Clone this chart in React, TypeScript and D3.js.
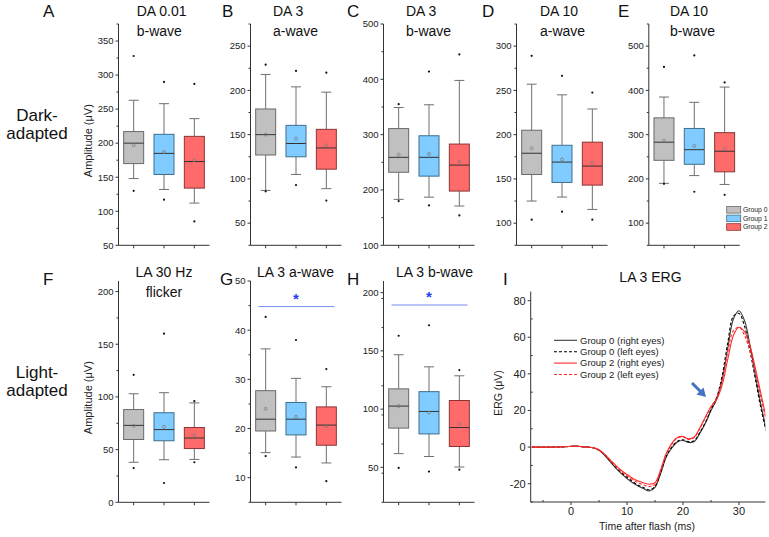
import React from "react";
import * as d3 from "d3";

const FONT = "'Liberation Sans', Arial, Helvetica, sans-serif";

const groups = ["Group 0", "Group 1", "Group 2"];
const groupFill = ["#c0c0c0", "#80cbff", "#ff6b6b"];
const groupEdge = ["#6a6a6a", "#3d6f8c", "#8a3535"];

// per group: [low outlier, whisker low, Q1, median, Q3, whisker high, high outlier, mean]
const da001B = [
  [130, 148, 170, 200, 217, 263, 328, 197],
  [117, 132, 154, 185, 213, 258, 290, 187],
  [85, 112, 134, 173, 210, 236, 287, 175],
];
const da3A = [
  [86, 87, 127, 150, 179, 218, 229, 150],
  [93, 105, 125, 140, 160.5, 204, 222, 145.5],
  [75.5, 89, 111, 135, 156, 198, 220, 138],
];
const da3B = [
  [180, 183, 232, 259, 311, 349, 355, 264],
  [172, 187, 225, 259, 298, 354, 414, 265],
  [154, 171, 198, 245, 283, 398, 445, 251],
];
const da10A = [
  [104, 125, 155, 179, 205, 257, 289, 184.5],
  [113, 129.5, 146, 169, 188, 245, 266.5, 172],
  [104, 115.5, 143, 164.5, 191.5, 229, 247.5, 168.5],
];
const da10B = [
  [189, 190, 242, 283, 338, 385, 453, 286.5],
  [171, 207.5, 233, 266, 314, 373, 479, 274.5],
  [164, 187.5, 216, 262.5, 304.5, 407.5, 418, 267],
];
const la30Hz = [
  [32.5, 38, 59.6, 73, 88, 103, 121, 72.6],
  [18.3, 40.4, 58.4, 69, 85, 104, 160, 71.6],
  [38, 40.7, 51, 61, 71, 94.3, 96, 63.7],
];
const la3A = [
  [14.4, 15.1, 19.5, 21.9, 27.7, 36.2, 42.7, 24],
  [12.1, 14.2, 18.7, 21.9, 25.3, 30.2, 38, 22.4],
  [9.3, 13, 16.6, 20.7, 24.4, 28.5, 32.1, 20.5],
];
const la3B = [
  [49.5, 61.8, 83.7, 102.6, 117.4, 146.7, 163, 102.6],
  [46.4, 59.3, 78.7, 98, 115, 136.3, 172, 97],
  [48, 50.3, 67.9, 84.2, 107.4, 128.6, 133.5, 87.4],
];

// LA 3 ERG traces, one value per ms from -7 to 35
const ergTime = d3.range(-7, 36, 1);
const g0Right = [0, 0, 0, 0, 0, 0.1, 0.2, 0.4, 0.5, 0.2, 0, -0.4, -1.8, -4.5, -8, -11.5, -14.5, -17.2, -19.5, -21.3, -22.8, -24, -22, -14.5, -5.5, -0.5, 2.8, 3.6, 2.5, 3, 7.5, 13, 20, 26, 37, 54, 70, 74.5, 69, 55, 38, 22, 8];
const g0Left = [0, 0, 0, 0, 0, 0.1, 0.2, 0.4, 0.5, 0.2, 0, -0.4, -1.7, -4.3, -7.6, -11, -14, -16.5, -18.8, -20.8, -22.2, -23.3, -21.5, -14, -5, 0, 3.2, 4, 3, 3.5, 8, 13.5, 20.5, 27, 39, 57, 71.5, 73, 66, 52, 36, 20, 7];
const g2Right = [0, 0, 0, 0, 0, 0.1, 0.2, 0.4, 0.5, 0.2, 0, -0.3, -1.5, -3.8, -7, -10, -12.8, -15, -17, -18.5, -19.6, -20.3, -19.5, -12.5, -3.5, 2, 5.2, 5.8, 4.5, 5.5, 10.5, 16.5, 22, 26, 34, 48, 61, 65.5, 63, 55, 42, 28, 14];
const g2Left = [0, 0, 0, 0, 0, 0.1, 0.2, 0.4, 0.5, 0.2, 0, -0.3, -1.6, -4, -7.3, -10.5, -13.4, -15.8, -17.8, -19.5, -20.7, -21.5, -20.5, -13, -4, 1.5, 5, 5.5, 4.2, 5.2, 10, 16, 22, 27, 37, 52, 63.5, 65.5, 61, 52, 40, 26, 13];
const ergSeries = [
  { name: "Group 0 (right eyes)", values: g0Right, color: "#3a3a3a", dash: null },
  { name: "Group 0 (left eyes)", values: g0Left, color: "#000000", dash: "3,2" },
  { name: "Group 2 (right eyes)", values: g2Right, color: "#ff2a2a", dash: null },
  { name: "Group 2 (left eyes)", values: g2Left, color: "#ff2a2a", dash: "3,2" },
];

const colX = [118.5, 250.5, 383.5, 516.5, 648.8];
const panelW = 91;
const rowY = [
  [245.3, 24],
  [502.3, 281],
];

const panels = [
  { letter: "A", lx: 43, data: da001B, domain: [50, 375], ticks: d3.range(50, 351, 50), minor: 25, col: 0, row: 0, title: ["DA 0.01", "b-wave"], tx: 136.7, ylab: true },
  { letter: "B", lx: 222, data: da3A, domain: [25, 275], ticks: d3.range(50, 251, 50), minor: 25, col: 1, row: 0, title: ["DA 3", "a-wave"], tx: 273 },
  { letter: "C", lx: 347, data: da3B, domain: [100, 500], ticks: d3.range(100, 501, 100), minor: 50, col: 2, row: 0, title: ["DA 3", "b-wave"], tx: 406 },
  { letter: "D", lx: 482, data: da10A, domain: [75, 325], ticks: d3.range(100, 301, 50), minor: 25, col: 3, row: 0, title: ["DA 10", "a-wave"], tx: 540 },
  { letter: "E", lx: 618, data: da10B, domain: [50, 550], ticks: d3.range(100, 501, 100), minor: 50, col: 4, row: 0, title: ["DA 10", "b-wave"], tx: 670, legend: true },
  { letter: "F", lx: 43, data: la30Hz, domain: [0, 210], ticks: d3.range(0, 201, 50), minor: 25, col: 0, row: 1, title: ["LA 30 Hz", "flicker"], tx: 164, center: true, ylab: true },
  { letter: "G", lx: 220, data: la3A, domain: [5, 50], ticks: d3.range(10, 51, 10), minor: 5, col: 1, row: 1, title: ["LA 3 a-wave"], tx: 257, sig: 44.8 },
  { letter: "H", lx: 347, data: la3B, domain: [20, 210], ticks: d3.range(50, 201, 50), minor: 25, col: 2, row: 1, title: ["LA 3 b-wave"], tx: 396, sig: 189.4 },
];

function BoxPanel({ p }: { p: any }) {
  const x0 = colX[p.col];
  const [yb, yt] = rowY[p.row];
  const x = d3.scaleBand<string>().domain(groups).range([x0, x0 + panelW]);
  const y = d3.scaleLinear().domain(p.domain).range([yb, yt]);
  const bw = 20;
  const minorTicks = d3.range(p.domain[0], p.domain[1] + 0.001, p.minor).filter((v: number) => !p.ticks.includes(v));
  const titleBase = p.row === 0 ? [15.7, 36] : [277, 297];
  const axisColor = "#333";
  return (
    <g>
      <text x={p.lx} y={p.row === 0 ? 17 : 285} fontSize={17} fontFamily={FONT} fill="#111">{p.letter}</text>
      {p.title.map((t: string, i: number) => (
        <text key={i} x={p.tx} y={titleBase[i]} fontSize={14} fontFamily={FONT} fill="#111" textAnchor={p.center ? "middle" : "start"}>{t}</text>
      ))}
      {/* axes */}
      <line x1={x0} x2={x0} y1={yt} y2={yb} stroke={axisColor} strokeWidth={1} />
      <line x1={x0} x2={x0 + panelW} y1={yb} y2={yb} stroke={axisColor} strokeWidth={1} />
      {p.ticks.map((t: number) => (
        <g key={t}>
          <line x1={x0 - 3} x2={x0} y1={y(t)} y2={y(t)} stroke={axisColor} />
          <text x={x0 - 5} y={y(t)} dy="0.35em" fontSize={9.5} fontFamily={FONT} textAnchor="end" fill="#222">{t}</text>
        </g>
      ))}
      {minorTicks.map((t: number) => (
        <line key={"m" + t} x1={x0 - 2} x2={x0} y1={y(t)} y2={y(t)} stroke={axisColor} />
      ))}
      {groups.map((g) => (
        <line key={"xt" + g} x1={x(g)! + x.bandwidth() / 2} x2={x(g)! + x.bandwidth() / 2} y1={yb} y2={yb + 3} stroke={axisColor} />
      ))}
      {p.ylab && (
        <text transform={`translate(${x0 - 27},${(yb + yt) / 2 + 6}) rotate(-90)`} textAnchor="middle" fontSize={11} fontFamily={FONT} fill="#222">Amplitude (μV)</text>
      )}
      {/* boxes */}
      {p.data.map((s: number[], i: number) => {
        const c = x(groups[i])! + x.bandwidth() / 2;
        const [lo, wl, q1, med, q3, wh, hi, mean] = s;
        return (
          <g key={i}>
            <line x1={c} x2={c} y1={y(q3)} y2={y(wh)} stroke="#707070" />
            <line x1={c} x2={c} y1={y(q1)} y2={y(wl)} stroke="#707070" />
            <line x1={c - 5} x2={c + 5} y1={y(wh)} y2={y(wh)} stroke="#707070" />
            <line x1={c - 5} x2={c + 5} y1={y(wl)} y2={y(wl)} stroke="#707070" />
            <rect x={c - bw / 2} y={y(q3)} width={bw} height={y(q1) - y(q3)} fill={groupFill[i]} stroke={groupEdge[i]} strokeWidth={1} />
            <line x1={c - bw / 2} x2={c + bw / 2} y1={y(med)} y2={y(med)} stroke="#333" strokeWidth={1} />
            <circle cx={c} cy={y(mean)} r={1.5} fill="none" stroke="#777" strokeWidth={0.7} />
            <circle cx={c} cy={y(lo)} r={1.1} fill="#111" />
            <circle cx={c} cy={y(hi)} r={1.1} fill="#111" />
          </g>
        );
      })}
      {p.sig !== undefined && (
        <g>
          <line x1={x0 + 8} x2={x0 + panelW - 7} y1={y(p.sig)} y2={y(p.sig)} stroke="#7b8cf2" strokeWidth={1} />
          <text x={x(groups[1])! + x.bandwidth() / 2} y={y(p.sig) - 3} textAnchor="middle" fontSize={15} fontWeight="bold" fontFamily={FONT} fill="#2a3ff0">*</text>
        </g>
      )}
      {p.legend && (
        <g>
          {groups.map((g, i) => (
            <g key={g}>
              <rect x={726.7} y={206.5 + i * 8.6} width={14} height={6.6} fill={groupFill[i]} stroke={groupEdge[i]} strokeWidth={0.8} />
              <text x={743} y={209.8 + i * 8.6} dy="0.35em" fontSize={6.8} fontFamily={FONT} fill="#222">{g}</text>
            </g>
          ))}
        </g>
      )}
    </g>
  );
}

function ErgPanel() {
  const x = d3.scaleLinear().domain([-7.2, 34.7]).range([530.7, 765.3]);
  const y = d3.scaleLinear().domain([-30, 85]).range([502, 291.5]);
  const line = d3
    .line<number>()
    .x((_, i) => x(ergTime[i]))
    .y((d) => y(d))
    .curve(d3.curveCatmullRom.alpha(0.5));
  const [x0, x1] = x.range();
  const [yb, yt] = y.range();
  const xTicks = [0, 10, 20, 30];
  const xMinor = [-5, 5, 15, 25];
  const yTicks = d3.range(-20, 81, 20);
  const yMinor = d3.range(-30, 85, 20);
  const ax = "#333";
  return (
    <g>
      <defs>
        <clipPath id="ergclip">
          <rect x={x0} y={yt - 5} width={x1 - x0} height={yb - yt + 5} />
        </clipPath>
      </defs>
      <text x={503} y={285} fontSize={17} fontFamily={FONT} fill="#111">I</text>
      <text x={650.5} y={281.7} fontSize={14} fontFamily={FONT} textAnchor="middle" fill="#111">LA 3 ERG</text>
      <line x1={x0} x2={x0} y1={yt} y2={yb} stroke={ax} />
      <line x1={x0} x2={x1} y1={yb} y2={yb} stroke={ax} />
      {yTicks.map((t) => (
        <g key={t}>
          <line x1={x0 - 3} x2={x0} y1={y(t)} y2={y(t)} stroke={ax} />
          <text x={x0 - 5} y={y(t)} dy="0.35em" textAnchor="end" fontSize={11} fontFamily={FONT} fill="#222">{t}</text>
        </g>
      ))}
      {yMinor.map((t) => (
        <line key={"ym" + t} x1={x0} x2={x0 + 2} y1={y(t)} y2={y(t)} stroke={ax} />
      ))}
      {xTicks.map((t) => (
        <g key={t}>
          <line x1={x(t)} x2={x(t)} y1={yb} y2={yb + 3} stroke={ax} />
          <text x={x(t)} y={yb + 13} textAnchor="middle" fontSize={11} fontFamily={FONT} fill="#222">{t}</text>
        </g>
      ))}
      {xMinor.map((t) => (
        <line key={"xm" + t} x1={x(t)} x2={x(t)} y1={yb - 2} y2={yb} stroke={ax} />
      ))}
      <text transform={`translate(${502},${393}) rotate(-90)`} textAnchor="middle" fontSize={10.5} fontFamily={FONT} fill="#222">ERG (μV)</text>
      <text x={647} y={530} textAnchor="middle" fontSize={10.5} fontFamily={FONT} fill="#222">Time after flash (ms)</text>
      <g clipPath="url(#ergclip)">
        {ergSeries.map((s) => (
          <path key={s.name} d={line(s.values) || ""} fill="none" stroke={s.color} strokeWidth={1.1} strokeDasharray={s.dash || undefined} />
        ))}
      </g>
      {ergSeries.map((s, i) => (
        <g key={"lg" + s.name}>
          <line x1={554} x2={577} y1={340.3 + i * 11.4} y2={340.3 + i * 11.4} stroke={s.color} strokeWidth={1.1} strokeDasharray={s.dash || undefined} />
          <text x={580} y={340.3 + i * 11.4} dy="0.35em" fontSize={9.5} fontFamily={FONT} fill="#222">{s.name}</text>
        </g>
      ))}
      {/* arrow pointing at the shoulder */}
      <g>
        <line x1={692} y1={383} x2={701} y2={392} stroke="#4472c4" strokeWidth={3} />
        <polygon points="706,397 696.5,394.5 703.5,387.5" fill="#4472c4" />
      </g>
    </g>
  );
}

export default function App() {
  return (
    <svg width={769} height={537} style={{ display: "block", position: "absolute", left: 0, top: 0, background: "#fff" }}>
      <rect width={769} height={537} fill="#fff" />
      <text x={37} y={120.7} fontSize={17} fontFamily={FONT} textAnchor="middle" fill="#111">Dark-</text>
      <text x={37} y={138.5} fontSize={17} fontFamily={FONT} textAnchor="middle" fill="#111">adapted</text>
      <text x={37} y={378} fontSize={17} fontFamily={FONT} textAnchor="middle" fill="#111">Light-</text>
      <text x={37} y={396} fontSize={17} fontFamily={FONT} textAnchor="middle" fill="#111">adapted</text>
      {panels.map((p) => (
        <BoxPanel key={p.letter} p={p} />
      ))}
      <ErgPanel />
    </svg>
  );
}
